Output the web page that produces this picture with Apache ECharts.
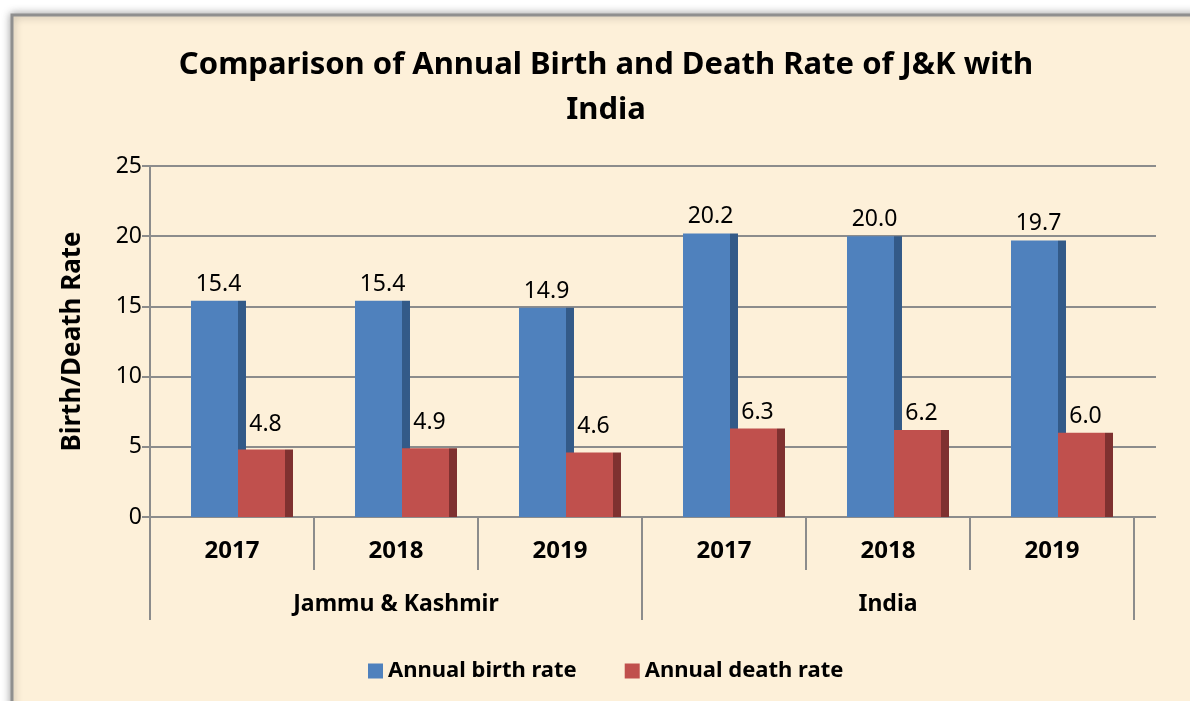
<!DOCTYPE html>
<html>
<head>
<meta charset="utf-8">
<script src="https://cdn.jsdelivr.net/npm/echarts@6/dist/echarts.min.js"></script>
<style>
  html, body { margin: 0; padding: 0; background: #ffffff; }
  #chart { width: 1190px; height: 701px; }
</style>
</head>
<body>
<div id="chart"></div>
<script>
// Categories: year within each region
const years = ['2017', '2018', '2019', '2017', '2018', '2019'];
const regions = ['Jammu & Kashmir', 'India'];

// Rates per 1000 population
const birthRate = [15.4, 15.4, 14.9, 20.2, 20.0, 19.7];
const deathRate = [4.8, 4.9, 4.6, 6.3, 6.2, 6.0];

// Value axis
const yMin = 0;
const yMax = 25;
const yStep = 5;

const FONT = '"Noto Sans", "Open Sans", sans-serif';
const AXIS_GREY = '#8c8c8c';

// Column with a darker right-hand side face (front 47px + side 8px)
function faceGradient(front, side) {
  const edge = 47 / 55;
  return new echarts.graphic.LinearGradient(0, 0, 1, 0, [
    { offset: 0, color: front },
    { offset: edge, color: front },
    { offset: edge, color: side },
    { offset: 1, color: side }
  ]);
}

// Lift for the short death-rate labels next to the tall birth columns
const deathLabelLift = [14, 14, 14, 5, 5, 5];

const chart = echarts.init(document.getElementById('chart'), null, { renderer: 'canvas' });

const option = {
  backgroundColor: '#ffffff',
  animation: false,
  graphic: [{
    type: 'rect',
    z: -100,
    silent: true,
    shape: { x: 12, y: 15, width: 1300, height: 800 },
    style: {
      fill: '#fdf0d9',
      stroke: '#8f8f8f',
      lineWidth: 3,
      shadowBlur: 8,
      shadowColor: 'rgba(0,0,0,0.35)'
    }
  }],
  title: {
    text: 'Comparison of Annual Birth and Death Rate of J&K with\nIndia',
    left: 601,
    top: 38,
    textAlign: 'center',
    textStyle: {
      fontFamily: FONT,
      fontWeight: 'bold',
      fontSize: 31,
      lineHeight: 45,
      color: '#000'
    }
  },
  legend: {
    left: 363,
    top: 655,
    icon: 'rect',
    itemWidth: 15,
    itemHeight: 15,
    itemGap: 48,
    textStyle: { fontFamily: FONT, fontWeight: 'bold', fontSize: 22, color: '#000' },
    data: [
      { name: 'Annual birth rate', itemStyle: { color: '#4f81bd' } },
      { name: 'Annual death rate', itemStyle: { color: '#c0504d' } }
    ]
  },
  grid: [
    // axes frame
    { left: 150, right: 56, top: 166, bottom: 184 },
    // back-wall gridlines (run past the last category)
    { left: 150, right: 34, top: 166, bottom: 184 },
    // columns (offset for depth)
    { left: 160, right: 46, top: 166, bottom: 184 }
  ],
  xAxis: [
    {
      gridIndex: 0,
      type: 'category',
      data: years,
      position: 'bottom',
      axisLine: { show: true, lineStyle: { color: AXIS_GREY, width: 2 } },
      axisTick: { show: true, length: 53, lineStyle: { color: AXIS_GREY, width: 2 } },
      axisLabel: { fontFamily: FONT, fontWeight: 'bold', fontSize: 24, color: '#000', margin: 22 }
    },
    {
      gridIndex: 0,
      type: 'category',
      data: regions,
      position: 'bottom',
      offset: 0,
      axisLine: { show: false },
      axisTick: { show: true, length: 103, lineStyle: { color: AXIS_GREY, width: 2 } },
      axisLabel: { fontFamily: FONT, fontWeight: 'bold', fontSize: 23, color: '#000', margin: 76 }
    },
    { gridIndex: 1, type: 'category', data: [''], show: false },
    { gridIndex: 2, type: 'category', data: years, show: false }
  ],
  yAxis: [
    {
      gridIndex: 0,
      type: 'value',
      min: yMin, max: yMax, interval: yStep,
      axisLine: { show: true, lineStyle: { color: AXIS_GREY, width: 2 } },
      axisTick: { show: false },
      axisLabel: { show: false },
      splitLine: { show: false }
    },
    {
      gridIndex: 1,
      type: 'value',
      min: yMin, max: yMax, interval: yStep,
      name: 'Birth/Death Rate',
      nameLocation: 'middle',
      nameGap: 64,
      nameTextStyle: { fontFamily: FONT, fontWeight: 'bold', fontSize: 26, color: '#000' },
      axisLine: { show: false },
      axisTick: { show: true, length: 8, lineStyle: { color: AXIS_GREY, width: 2 } },
      axisLabel: { fontFamily: FONT, fontSize: 23, color: '#000', margin: 8 },
      splitLine: { show: true, lineStyle: { color: AXIS_GREY, width: 2 } }
    },
    {
      gridIndex: 2,
      type: 'value',
      min: yMin, max: yMax, interval: yStep,
      show: false
    }
  ],
  series: [
    {
      name: 'Annual birth rate',
      type: 'bar',
      xAxisIndex: 3,
      yAxisIndex: 2,
      barWidth: 55,
      barGap: '-14.545%',
      data: birthRate,
      itemStyle: { color: faceGradient('#4f81bd', '#335a88') },
      label: {
        show: true,
        position: 'top',
        distance: 5,
        fontFamily: FONT,
        fontSize: 23,
        color: '#000',
        formatter: p => p.value.toFixed(1)
      }
    },
    {
      name: 'Annual death rate',
      type: 'bar',
      xAxisIndex: 3,
      yAxisIndex: 2,
      barWidth: 55,
      barGap: '-14.545%',
      data: deathRate.map((v, i) => ({ value: v, label: { distance: deathLabelLift[i] } })),
      itemStyle: { color: faceGradient('#c0504d', '#7f3130') },
      label: {
        show: true,
        position: 'top',
        fontFamily: FONT,
        fontSize: 23,
        color: '#000',
        formatter: p => p.value.toFixed(1)
      }
    }
  ]
};

chart.setOption(option);
</script>
</body>
</html>
